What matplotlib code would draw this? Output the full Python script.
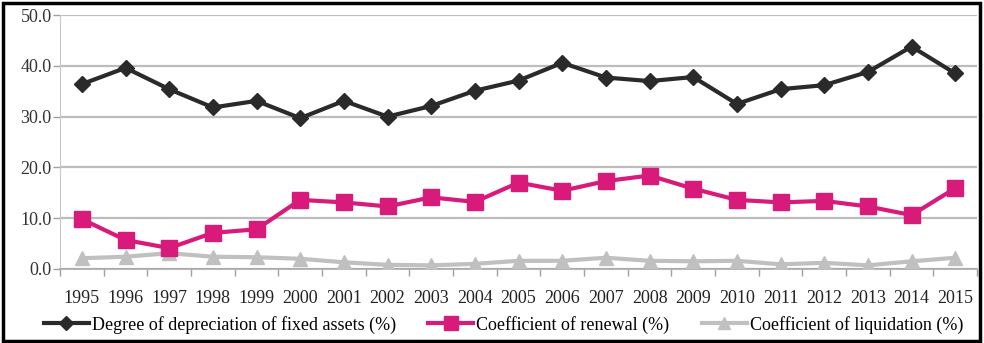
import matplotlib
matplotlib.use('Agg')
import matplotlib.pyplot as plt
from matplotlib.patches import Rectangle
import numpy as np

years = list(range(1995, 2016))
depreciation = [36.4, 39.6, 35.4, 31.8, 33.1, 29.7, 33.1, 30.0, 32.1, 35.1, 37.1,
                40.6, 37.7, 37.0, 37.8, 32.5, 35.4, 36.2, 38.8, 43.8, 38.5]
renewal = [9.8, 5.7, 4.1, 7.1, 7.8, 13.6, 13.1, 12.3, 14.1, 13.2, 17.0,
           15.4, 17.3, 18.4, 15.8, 13.6, 13.1, 13.4, 12.3, 10.6, 15.9]
liquidation = [2.1, 2.4, 3.1, 2.4, 2.3, 2.0, 1.3, 0.8, 0.7, 1.0, 1.6,
               1.6, 2.2, 1.6, 1.5, 1.6, 0.9, 1.2, 0.7, 1.5, 2.2]
y_ticks = [0, 10, 20, 30, 40, 50]

plt.rcParams['font.family'] = ['Liberation Serif', 'DejaVu Serif']

fig = plt.figure(figsize=(9.84, 3.43), dpi=100)
ax = fig.add_axes([0.061, 0.216, 0.932, 0.740])

x = np.arange(len(years))
ax.plot(x, depreciation, color='#2a2a2a', lw=3, marker='D', ms=8,
        label='Degree of depreciation of fixed assets (%)', zorder=4)
ax.plot(x, renewal, color='#d81b7a', lw=3, marker='s', ms=11,
        label='Coefficient of renewal (%)', zorder=4)
ax.plot(x, liquidation, color='#c0c0c0', lw=3, marker='^', ms=10,
        label='Coefficient of liquidation (%)', zorder=3)

ax.set_xlim(-0.5, len(years) - 0.5)
ax.set_ylim(0, 50)
ax.set_yticks(y_ticks)
ax.set_yticklabels(['%.1f' % v for v in y_ticks], fontsize=13, color='#333333')
ax.set_xticks(x)
ax.set_xticklabels([str(y) for y in years], fontsize=13, color='#222222')
ax.set_xticks(np.arange(-0.5, len(years)), minor=True)
ax.tick_params(axis='x', which='major', length=0, pad=15)
ax.tick_params(axis='x', which='minor', length=5, color='#a0a0a0', width=1)
ax.tick_params(axis='y', length=5, color='#a0a0a0', width=1, pad=1)

ax.grid(axis='y', color='#bdbdbd', lw=1.6)
ax.set_axisbelow(True)
for s in ['top', 'right']:
    ax.spines[s].set_visible(False)
ax.spines['left'].set_color('#c8c8c8')
ax.spines['bottom'].set_color('#a8a8a8')
ax.spines['bottom'].set_linewidth(1.2)

fig.legend(loc='lower left', bbox_to_anchor=(0.028, -0.02), ncol=3, frameon=False,
           fontsize=13, handlelength=2.5, handletextpad=0.15, columnspacing=1.8,
           markerscale=0.9)

fig.patches.append(Rectangle((0.003, 0.006), 0.993, 0.985, transform=fig.transFigure,
                             fill=False, edgecolor='black', lw=2.5))

fig.savefig('out.png', dpi=100)
